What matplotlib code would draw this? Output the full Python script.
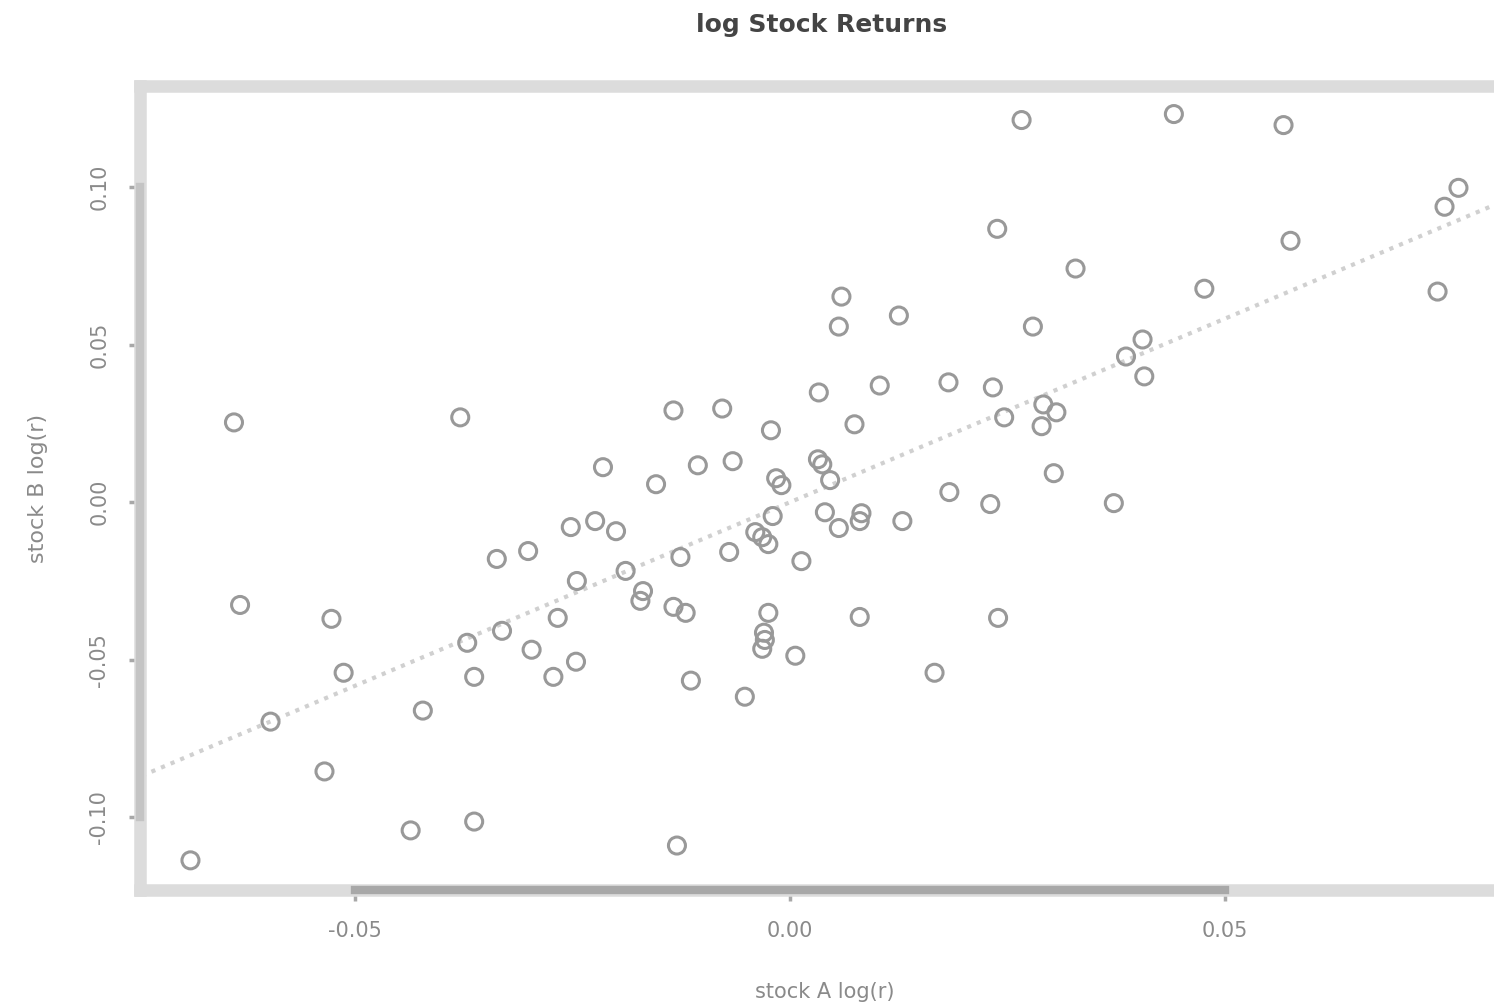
import numpy as np
import matplotlib
matplotlib.use('Agg')
import matplotlib.pyplot as plt

# log returns
stock_a = np.array([
    0.0266, 0.0441, 0.0567, 0.0768, 0.0752, 0.0238, 0.0575, 0.0328, 0.0476, 0.0744,
    0.0059, 0.0056, 0.0125, 0.0279, 0.0405, 0.0386, 0.0407, 0.0182, 0.0233, 0.0103,
    0.0033, -0.0639, -0.0379, -0.0134, -0.0078, 0.0291, 0.0246, 0.0306, 0.0289, 0.0074,
    -0.0022, -0.0215, -0.0106, -0.0066, 0.0032, 0.0037, 0.0303, -0.0154, -0.0016, -0.0010,
    0.0046, 0.0183, 0.0230, 0.0372, 0.0040, 0.0082, -0.0020, -0.0252, -0.0224, -0.0200,
    0.0056, 0.0080, 0.0129, -0.0040, -0.0032, -0.0025, -0.0337, -0.0301, -0.0070, -0.0126,
    0.0013, -0.0189, -0.0245, -0.0169, -0.0172, -0.0134, -0.0120, -0.0025, -0.0632, -0.0527,
    -0.0267, 0.0080, 0.0239, -0.0331, -0.0371, -0.0030, -0.0029, -0.0032, -0.0297, 0.0006,
    -0.0246, -0.0513, -0.0363, -0.0272, 0.0166, -0.0114, -0.0052, -0.0422, -0.0597, -0.0535,
    -0.0436, -0.0363, -0.0130, -0.0689,
])
stock_b = np.array([
    0.1212, 0.1231, 0.1196, 0.0997, 0.0937, 0.0867, 0.0829, 0.0741, 0.0677, 0.0668,
    0.0652, 0.0557, 0.0592, 0.0557, 0.0516, 0.0462, 0.0399, 0.0380, 0.0364, 0.0370,
    0.0348, 0.0253, 0.0269, 0.0291, 0.0297, 0.0310, 0.0269, 0.0285, 0.0241, 0.0247,
    0.0228, 0.0111, 0.0117, 0.0130, 0.0136, 0.0120, 0.0092, 0.0057, 0.0076, 0.0054,
    0.0070, 0.0032, -0.0006, -0.0003, -0.0032, -0.0035, -0.0044, -0.0079, -0.0060, -0.0092,
    -0.0082, -0.0060, -0.0060, -0.0095, -0.0111, -0.0133, -0.0180, -0.0155, -0.0158, -0.0174,
    -0.0187, -0.0218, -0.0250, -0.0282, -0.0313, -0.0332, -0.0351, -0.0351, -0.0326, -0.0370,
    -0.0367, -0.0364, -0.0367, -0.0408, -0.0446, -0.0414, -0.0437, -0.0465, -0.0468, -0.0487,
    -0.0506, -0.0541, -0.0554, -0.0554, -0.0541, -0.0566, -0.0617, -0.0661, -0.0696, -0.0854,
    -0.1041, -0.1013, -0.1089, -0.1136,
])
fit_slope = 1.165
fit_intercept = 0.0

box_col = '#dcdcdc'
axis_col = '#a8a8a8'
text_col = '#8a8a8a'

fig = plt.figure(figsize=(14.94, 10.07), dpi=100)
ax = fig.add_axes([0.0937, 0.1162, 0.9163, 0.7984])

ax.scatter(stock_a, stock_b, s=150, facecolors='none', edgecolors='#999999', linewidths=2.2, zorder=3)

xx = np.array([-0.08, 0.09])
ax.plot(xx, fit_intercept + fit_slope * xx, color='#d0d0d0', lw=3, ls=(0, (1, 1.5)), zorder=2)

ax.set_xlim(-0.0747, 0.0826)
ax.set_ylim(-0.123, 0.132)

for s in ax.spines.values():
    s.set_color(box_col)
    s.set_linewidth(9)

ax.set_xticks([-0.05, 0.0, 0.05])
ax.set_xticklabels(['-0.05', '0.00', '0.05'])
ax.set_yticks([-0.10, -0.05, 0.0, 0.05, 0.10])
ax.set_yticklabels(['-0.10', '-0.05', '0.00', '0.05', '0.10'], rotation=90, va='center')
ax.tick_params(colors=text_col, labelsize=15, length=8, width=2.5, pad=14)
ax.tick_params(axis='x', color=axis_col)
ax.tick_params(axis='y', color=axis_col)

# darker R-style axis lines spanning the ticks
ax.plot([-0.05, 0.05], [-0.123, -0.123], color=axis_col, lw=6, clip_on=False, zorder=4)
ax.plot([-0.0747, -0.0747], [-0.10, 0.10], color='#c4c4c4', lw=6, clip_on=False, zorder=4)

ax.set_xlabel('stock A log(r)', color=text_col, fontsize=15, labelpad=30)
ax.set_ylabel('stock B log(r)', color=text_col, fontsize=16, labelpad=30)
fig.text(0.55, 0.975, 'log Stock Returns', ha='center', va='center', fontsize=18,
         fontweight='bold', color='#444444')

fig.savefig('out.png', dpi=100)
